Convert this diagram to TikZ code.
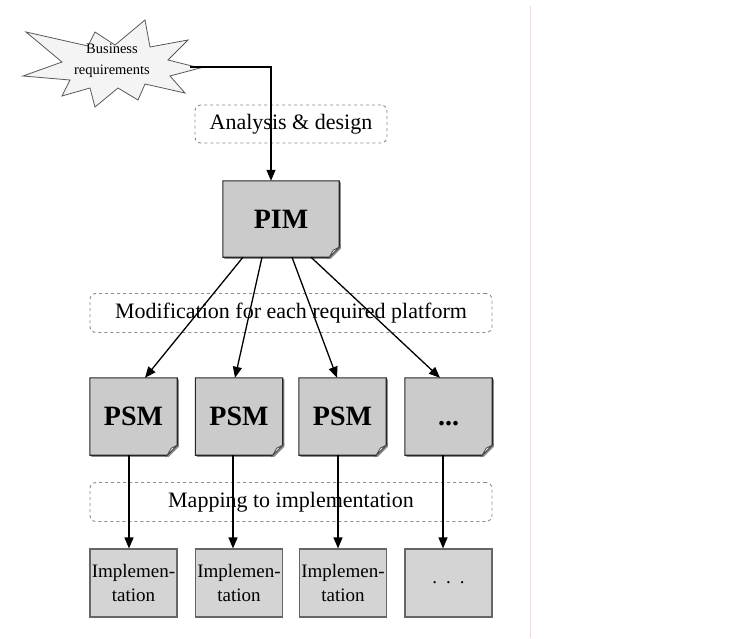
\documentclass[tikz,border=0pt]{standalone}
\usepackage{fontspec}
\setmainfont{Liberation Serif}
\usetikzlibrary{arrows.meta,backgrounds}

\definecolor{docfill}{HTML}{CBCBCB}
\definecolor{implfill}{HTML}{D4D4D4}
\definecolor{starfill}{HTML}{F4F4F4}
\definecolor{phaseline}{HTML}{8C8C8C}
\definecolor{edgeline}{HTML}{F3D9D9}

\tikzset{
  phasebox/.style={draw=phaseline, dashed, line width=0.9pt, rounded corners=6pt,
    fill=white, inner sep=0pt, font=\fontsize{22}{26}\selectfont},
  docbox/.style={inner sep=0pt, font=\fontsize{28}{32}\selectfont\bfseries},
  implbox/.style={draw=black!60, line width=1.2pt, fill=implfill, inner sep=0pt,
    minimum width=87pt, minimum height=68pt, align=center,
    font=\fontsize{19}{24}\selectfont},
  bizlabel/.style={inner sep=0pt, align=center, font=\fontsize{14.5}{21}\selectfont},
  arr/.style={draw=black, line width=1.3pt,
    -{Triangle[length=11pt,width=9pt]}},
}

% document shape with a folded lower right corner, drawn behind a named node
\newcommand\docshape[1]{%
  \fill[black!45] ([xshift=1.6pt,yshift=-1.6pt]#1.north west) -- ([xshift=1.6pt,yshift=-1.6pt]#1.north east)
    -- ([xshift=1.6pt,yshift=8.4pt]#1.south east) -- ([xshift=-8.4pt,yshift=-1.6pt]#1.south east)
    -- ([xshift=1.6pt,yshift=-1.6pt]#1.south west) -- cycle;
  \filldraw[fill=docfill, draw=black!85, line width=1.1pt]
    (#1.north west) -- (#1.north east) -- ([yshift=10pt]#1.south east)
    -- ([xshift=-10pt]#1.south east) -- (#1.south west) -- cycle;
  \filldraw[fill=white, draw=black!70, line width=0.8pt]
    ([yshift=10pt]#1.south east) -- ([xshift=-6pt,yshift=7pt]#1.south east)
    -- ([xshift=-10pt]#1.south east) -- cycle;
}

\begin{document}
\begin{tikzpicture}[x=1pt, y=-1pt]
\useasboundingbox (0,0) rectangle (734,638);
\draw[edgeline, line width=0.6pt] (530,6) -- (530,638);

% business requirements burst
\begin{scope}[shift={(110,65)}]
  \filldraw[fill=starfill, draw=black!65, line width=0.8pt]
    (35,-45) -- (40,-18) -- (78,-25) -- (58,-5) -- (90,3) -- (60,11)
    -- (75,28) -- (35,19) -- (28,35) -- (8,23) -- (-15,42) -- (-20,23)
    -- (-48,31) -- (-40,15) -- (-87,11) -- (-48,-3) -- (-84,-33)
    -- (-22,-19) -- (-15,-33) -- (5,-20) -- cycle;
\end{scope}
\node[bizlabel] (biz) at (112,61) {Business\\requirements};
\coordinate (bizout) at (190,67);

% phases
\node[phasebox, minimum width=192pt, minimum height=38pt] (analysis) at (291,124) {Analysis \& design};
\node[phasebox, minimum width=402pt, minimum height=39pt] (modif) at (291,313) {Modification for each required platform};
\node[phasebox, minimum width=402pt, minimum height=39pt] (mapping) at (291,502) {Mapping to implementation};

% models
\node[docbox, minimum width=116pt, minimum height=76pt] (pim) at (281,219) {PIM};
\node[docbox, minimum width=87pt, minimum height=77pt] (psm1) at (133.5,416.5) {PSM};
\node[docbox, minimum width=87pt, minimum height=77pt] (psm2) at (239,416.5) {PSM};
\node[docbox, minimum width=87pt, minimum height=77pt] (psm3) at (342.5,416.5) {PSM};
\node[docbox, minimum width=87pt, minimum height=77pt] (psm4) at (448.5,416.5) {\vphantom{PSM}...};
\begin{scope}[on background layer]
  \fill[white] (0,0) rectangle (734,638);
  \docshape{pim}
  \docshape{psm1}
  \docshape{psm2}
  \docshape{psm3}
  \docshape{psm4}
\end{scope}

% implementations
\node[implbox] (impl1) at (133.5,583) {Implemen-\\tation};
\node[implbox] (impl2) at (239,583) {Implemen-\\tation};
\node[implbox] (impl3) at (343,583) {Implemen-\\tation};
\node[implbox] (impl4) at (448.5,583) {.\hspace{9pt}.\hspace{9pt}.};

% connectors
\draw[arr] (bizout) -| ([xshift=-10pt]pim.north);
\draw[arr] ([xshift=-38pt]pim.south) -- ([xshift=11.5pt]psm1.north);
\draw[arr] ([xshift=-19pt]pim.south) -- ([xshift=-4pt]psm2.north);
\draw[arr] ([xshift=11pt]pim.south) -- ([xshift=-5.5pt]psm3.north);
\draw[arr] ([xshift=30pt]pim.south) -- ([xshift=-8.5pt]psm4.north);
\draw[arr] ([xshift=-4.5pt]psm1.south) -- ([xshift=-4.5pt]impl1.north);
\draw[arr] ([xshift=-6pt]psm2.south) -- ([xshift=-6pt]impl2.north);
\draw[arr] ([xshift=-4.5pt]psm3.south) -- ([xshift=-5pt]impl3.north);
\draw[arr] ([xshift=-5.5pt]psm4.south) -- ([xshift=-5.5pt]impl4.north);
\end{tikzpicture}
\end{document}
